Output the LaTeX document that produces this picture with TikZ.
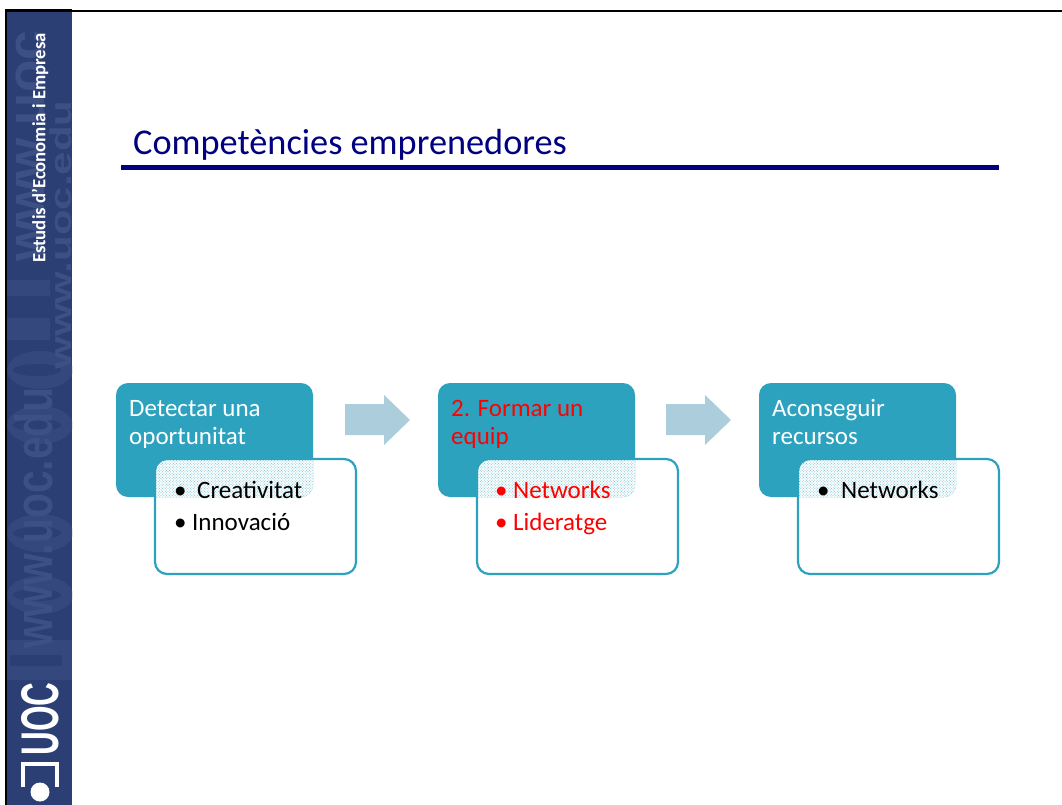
\documentclass[tikz,border=0pt]{standalone}
\usepackage{fontspec}
\setmainfont{Carlito}
\setsansfont{Liberation Sans}
\usetikzlibrary{patterns}
\definecolor{uocnavy}{HTML}{2B3F75}
\definecolor{uocmark}{HTML}{3C5084}
\definecolor{uocghost}{HTML}{34487D}
\definecolor{titlenavy}{HTML}{000080}
\definecolor{teal}{HTML}{2DA2BF}
\definecolor{arrowblue}{HTML}{ABCDDC}
\pgfdeclarepatternformonly{finedots}{\pgfqpoint{-1pt}{-1pt}}{\pgfqpoint{2pt}{2pt}}{\pgfqpoint{2.8pt}{2.8pt}}{%
  \pgfpathcircle{\pgfqpoint{0pt}{0pt}}{0.55pt}%
  \pgfpathcircle{\pgfqpoint{1.4pt}{1.4pt}}{0.55pt}%
  \pgfusepath{fill}}
\tikzset{
  x=1pt,y=-1pt,
  head/.style={fill=teal,rounded corners=12pt},
  card/.style={draw=teal,line width=2.2pt,rounded corners=12pt},
  headtext/.style={anchor=north west,align=left,inner sep=0pt,font=\fontsize{25}{28}\selectfont},
  cardtext/.style={anchor=north west,align=left,inner sep=0pt,font=\fontsize{25}{32}\selectfont},
  watermark/.style={rotate=90,text=uocmark,inner sep=0pt},
  flowarrow/.style={fill=arrowblue},
}
\newcommand{\stepgroup}[1]{%
  \fill[head] (#1,383) rectangle ++(197,114);
  \begin{scope}
    \clip[rounded corners=12pt] (#1,383) rectangle ++(197,114);
    \fill[white,rounded corners=12pt] (#1+39,459) rectangle ++(201,115);
    \fill[pattern=finedots,pattern color=teal!60,rounded corners=12pt] (#1+39,459) rectangle ++(201,115);
  \end{scope}
  \draw[card] (#1+39,459) rectangle ++(201,115);
}
\newcommand{\flowshape}[1]{%
  \fill[flowarrow] (#1,404) -- ++(39,0) -- ++(0,-9) -- ++(26,25) -- ++(-26,25) -- ++(0,-10) -- ++(-39,0) -- cycle;
}
\newcommand{\ghostring}[1]{%
  \fill[uocghost] (40,#1) ellipse (33 and 19);
  \fill[uocnavy] (37,#1) ellipse (24 and 6);
}
\newcommand{\bul}[1]{\makebox[#1][l]{•}}
\newcommand{\wmtext}[1]{\scalebox{#1}[1]{www.uoc.edu}}
\begin{document}
\begin{tikzpicture}
\useasboundingbox (0,0) rectangle (1062,805);
\fill[white] (0,0) rectangle (1062,805);
\fill[uocnavy] (7,12) rectangle (72,805);
\fill[black] (4.5,9) rectangle (7,805);
\fill[black] (4.5,9) rectangle (72,12);
\fill[black] (72,10.5) rectangle (1062,12);
\begin{scope}
\clip (7,12) rectangle (72,805);
\ghostring{370}
\ghostring{425}
\ghostring{533}
\ghostring{595}
\fill[uocghost] (7,640) rectangle (72,680);
\fill[uocnavy] (10,655) rectangle (62,666);
\fill[uocghost] (7,280) rectangle (50,296);
\fill[uocghost] (7,318) rectangle (50,340);
\node[watermark,font=\fontsize{53}{53}\sffamily\bfseries\selectfont] (wm1) at (34,518) {\wmtext{.77}};
\node[watermark,font=\fontsize{53}{53}\sffamily\bfseries\selectfont,anchor=west] (wm2) at (30,262) {www.uoc};
\node[watermark,font=\fontsize{30}{30}\sffamily\bfseries\selectfont] (wm3) at (61,235) {\wmtext{1.4}};
\end{scope}
\node[rotate=90,text=white,font=\fontsize{18.7}{20}\selectfont\bfseries,inner sep=0pt] (side) at (40,148) {Estudis d’Economia i Empresa};
\node[rotate=90,text=white,font=\fontsize{53}{53}\sffamily\bfseries\selectfont,inner sep=0pt] (uoc) at (40,719) {\scalebox{.62}[1]{UOC}};
\draw[white,line width=4pt] (23,787) -- (23,764) -- (57,764) -- (57,787);
\fill[white] (40,792) circle (9.5);

\node[anchor=west,text=titlenavy,inner sep=0pt,font=\fontsize{36.3}{40}\selectfont] (title) at (133,144.5) {Competències emprenedores};
\fill[titlenavy] (121,165) rectangle (999,170.5);

\stepgroup{116}
\stepgroup{438}
\stepgroup{759}
\node[headtext,text=white] (h1) at (129,400) {Detectar una\\oportunitat};
\node[headtext,text=red] (h2) at (451,400) {2. Formar un\\equip};
\node[headtext,text=white] (h3) at (772,399) {Aconseguir\\recursos};
\node[cardtext] (c1) at (174,481) {\bul{23pt}Creativitat\\\bul{18pt}Innovació};
\node[cardtext,text=red] (c2) at (495,481) {\bul{18pt}Networks\\\bul{18pt}Lideratge};
\node[cardtext] (c3) at (817,481) {\bul{24pt}Networks};
\flowshape{345}
\flowshape{666}
\end{tikzpicture}
\end{document}
